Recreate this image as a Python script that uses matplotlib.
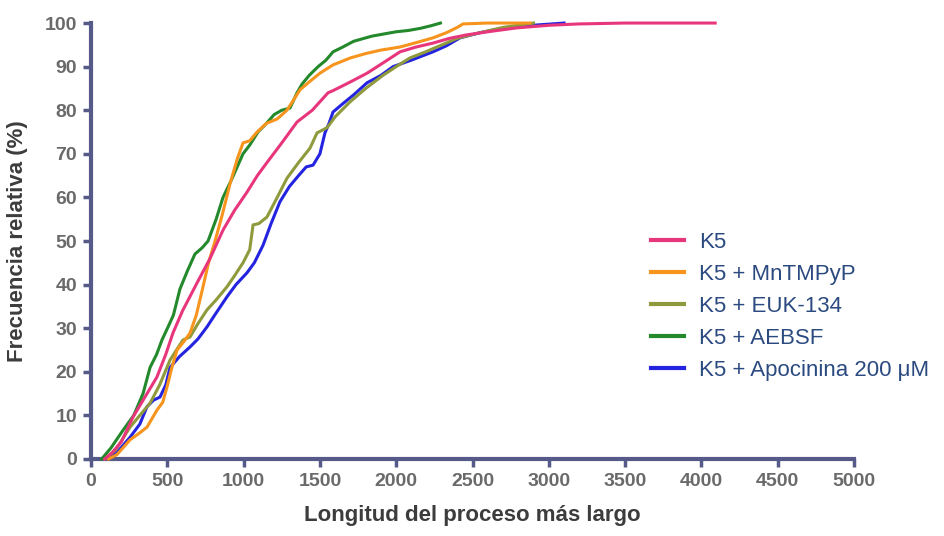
import matplotlib
matplotlib.use("Agg")
import matplotlib.pyplot as plt

# cumulative distributions
labels = ["K5", "K5 + MnTMPyP", "K5 + EUK-134", "K5 + AEBSF", "K5 + Apocinina 200 \u03bcM"]

k5_x = [90, 140, 200, 275, 350, 432, 490, 537, 600, 695, 780, 865, 940, 1022, 1090, 1153, 1250,
        1350, 1450, 1553, 1586, 1700, 1809, 1920, 2025, 2130, 2241, 2350, 2464, 2600, 2792, 3008,
        3200, 3500, 4090]
k5_y = [0, 1.5, 4, 9.6, 14, 18.8, 24, 28.9, 34, 40.4, 46, 52.5, 57, 61.2, 65, 68, 72.5,
        77.3, 80, 84, 84.5, 86.5, 88.5, 91, 93.4, 94.5, 95.4, 96.5, 97.3, 98, 98.9, 99.5,
        99.8, 100, 100]

mn_x = [115, 170, 256, 320, 367, 432, 470, 498, 530, 564, 610, 649, 690, 734, 770, 813, 860, 910,
        960, 996, 1040, 1088, 1150, 1220, 1284, 1330, 1370, 1430, 1500, 1586, 1700, 1800, 1900,
        2025, 2140, 2241, 2330, 2400, 2438, 2600, 2877]
mn_y = [0, 1, 4.4, 6, 7.3, 11.2, 13, 16.5, 21, 25, 27, 28.9, 33, 39.5, 45, 50, 56, 63,
        69, 72.5, 73, 75, 77, 78, 80, 82.5, 84.7, 86.5, 88.5, 90.4, 92, 93, 93.8,
        94.5, 95.6, 96.6, 97.8, 99, 99.8, 100, 100]

euk_x = [90, 160, 256, 320, 387, 450, 518, 560, 603, 649, 700, 760, 820, 891, 940, 996, 1040,
         1062, 1100, 1153, 1220, 1284, 1360, 1435, 1481, 1547, 1600, 1697, 1800, 1913, 2000,
         2090, 2200, 2300, 2400, 2550, 2700, 2900]
euk_y = [0, 2, 7.3, 10, 12.8, 17, 22.7, 25, 27.3, 28, 31, 34.2, 36.5, 39.5, 42, 45, 48,
         53.7, 54, 55.5, 60, 64.4, 68, 71.3, 74.8, 76, 78.5, 81.9, 85, 88, 90,
         92, 93.5, 95, 96.5, 97.8, 99, 100]

aebsf_x = [70, 130, 210, 280, 341, 387, 430, 465, 505, 540, 583, 630, 681, 730, 767, 820, 865,
           920, 996, 1040, 1094, 1150, 1200, 1250, 1304, 1350, 1383, 1430, 1488, 1540, 1586,
           1650, 1720, 1790, 1841, 1920, 2000, 2080, 2160, 2230, 2290]
aebsf_y = [0, 2.5, 6.6, 10, 15, 21, 24, 27.3, 30.3, 33, 39, 43, 47, 48.5, 50, 55, 60,
           64, 70, 72, 75, 77, 79, 80, 80.5, 84, 86, 88, 90, 91.5, 93.4,
           94.5, 95.8, 96.5, 97, 97.5, 98, 98.3, 98.8, 99.4, 100]

apo_x = [100, 170, 256, 320, 367, 410, 452, 490, 518, 580, 649, 700, 760, 820, 891, 950, 1022,
         1070, 1127, 1180, 1238, 1300, 1360, 1410, 1455, 1500, 1533, 1560, 1586, 1650, 1720,
         1809, 1900, 1979, 2100, 2241, 2330, 2418, 2550, 2700, 2900, 3100]
apo_y = [0, 1.5, 5, 8, 12, 13.5, 14.2, 17, 21, 23.5, 25.7, 27.5, 30.3, 33.5, 37.2, 40, 42.7,
         45, 49, 54, 59, 62.5, 65, 67, 67.4, 70, 74.8, 77, 79.6, 81.5, 83.5,
         86.3, 88, 90, 91.5, 93.4, 94.8, 96.6, 97.8, 98.8, 99.5, 100]

xs = [k5_x, mn_x, euk_x, aebsf_x, apo_x]
ys = [k5_y, mn_y, euk_y, aebsf_y, apo_y]
colors = ["#e8367c", "#f7941d", "#8f9a3c", "#23892b", "#2424e0"]
zorders = [6, 5, 3, 4, 2]

axis_col = "#555a88"
tick_col = "#6a6a6a"
fam = ["Liberation Sans", "DejaVu Sans"]

fig = plt.figure(figsize=(9.44, 5.36), dpi=100)
ax = fig.add_axes([0.0964, 0.1437, 0.8083, 0.8133])

for x, y, c, lab, z in zip(xs, ys, colors, labels, zorders):
    ax.plot(x, y, color=c, lw=2.2, label=lab, zorder=z, clip_on=False)

ax.set_xlim(0, 5000)
ax.set_ylim(0, 100)
ax.set_xticks(range(0, 5001, 500))
ax.set_yticks(range(0, 101, 10))

for s in ["top", "right"]:
    ax.spines[s].set_visible(False)
for s in ["left", "bottom"]:
    ax.spines[s].set_color(axis_col)
    ax.spines[s].set_linewidth(3)

ax.tick_params(axis="both", colors=axis_col, width=2.5, length=6, direction="out", pad=4)
for t in ax.get_xticklabels() + ax.get_yticklabels():
    t.set_color(tick_col)
    t.set_fontweight("bold")
    t.set_fontsize(14)
    t.set_family(fam)

ax.set_xlabel("Longitud del proceso más largo", fontsize=16, fontweight="bold",
              color="#3c3c3c", family=fam, labelpad=11)
ax.set_ylabel("Frecuencia relativa (%)", fontsize=16, fontweight="bold",
              color="#3c3c3c", family=fam, labelpad=12)

leg = ax.legend(loc="upper left", bbox_to_anchor=(0.668, 0.605), bbox_transform=fig.transFigure,
                frameon=False, prop={"family": fam, "size": 16}, handlelength=1.5,
                handletextpad=0.7, labelspacing=0.5)
for t in leg.get_texts():
    t.set_color("#2b4a80")
for h in leg.get_lines():
    h.set_linewidth(3)

fig.savefig("out.png", dpi=100)
